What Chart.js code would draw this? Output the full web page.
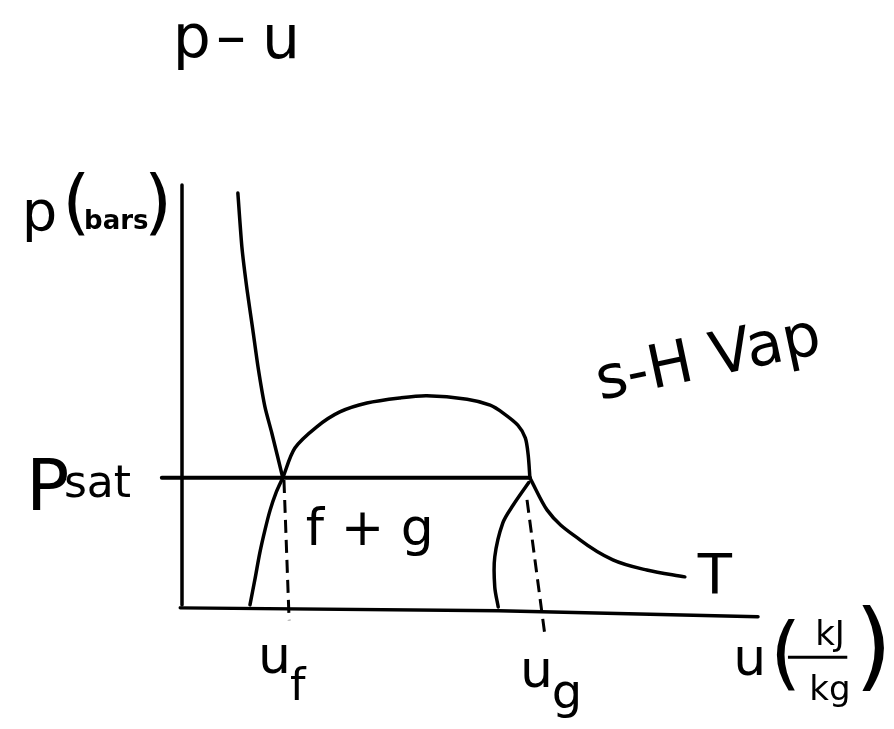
<!DOCTYPE html>
<html>
<head>
<meta charset="utf-8">
<title>p-u</title>
<script src="https://cdn.jsdelivr.net/npm/chart.js@4/dist/chart.umd.min.js"></script>
<style>
  html, body { margin: 0; padding: 0; background: #fff; }
  canvas { display: block; }
</style>
</head>
<body>
<canvas id="puChart" width="894" height="729"></canvas>
<script>
// values, u and p in sketch units (axes run 0..100)
const axisU = [0, 0];
const axisP = [100, 1.2];
const baseU = [-0.3, 55, 100];
const baseP = [0.5, -0.2, -1.6];

const liquidIsoU = [9.7, 10.4, 11.3, 12.3, 13.2, 14.4, 15.6, 17.5];
const liquidIsoP = [98.1, 85.4, 75.3, 65.9, 57.2, 47.8, 41.6, 31.1];

const domeU = [17.5, 19.6, 23.4, 27.4, 32.1, 37.9, 42.5, 49.5, 53.5, 55.7, 58.3, 59.6, 60.1, 60.4];
const domeP = [31.1, 38.1, 43.1, 46.6, 48.7, 49.9, 50.4, 49.6, 48.2, 46.4, 43.5, 40.5, 36.5, 31.1];

const psatU = [-3.5, 60.4];
const psatP = [31.1, 31.1];

const vaporIsoU = [60.4, 63.4, 69.1, 74.8, 80.7, 87.3];
const vaporIsoP = [31.1, 23.5, 16.5, 11.8, 9.4, 7.8];

const lowLiquidU = [17.5, 16.3, 15.3, 14.4, 13.5, 12.7, 11.8];
const lowLiquidP = [31.1, 27.5, 23.5, 18.8, 13.4, 7.5, 1.2];

const lowVaporU = [60.2, 57.5, 55.7, 54.3, 54.3, 54.9];
const lowVaporP = [30.0, 24.7, 20.5, 12.5, 5.4, 0.7];

const ufU = [17.7, 18.6];
const ufP = [30.6, -2.4];
const ugU = [59.9, 63.0];
const ugP = [25.9, -5.9];

// text on the sketch: [text, u, p]
const labelTexts = [
  ["p", -1.6, 130.1],
  ["–", 5.9, 130.1],
  ["u", 13.9, 129.9],
  ["p", -27.8, 89.4],
  ["(", -20.8, 90.4],
  ["bars", -17.0, 89.6],
  [")", -6.6, 90.4],
  ["P", -27.1, 23.5],
  ["sat", -20.5, 26.6],
  ["f + g", 21.5, 15.3],
  ["T", 92.5, 4.0],
  ["u", 13.2, -14.8],
  ["f", 18.75, -21.2],
  ["u", 58.7, -18.1],
  ["g", 64.2, -23.1],
  ["u", 95.7, -15.3],
  ["(", 102.1, -16.5],
  ["kJ", 112.5, -8.2],
  ["kg", 112.5, -21.2],
  [")", 116.8, -16.0],
  ["s-H Vap", 72.6, 49.4],
];

const fontFamily = "'DejaVu Sans', sans-serif";
// font size, alignment and rotation per label, same order as labelTexts
const labelStyles = [
  [60, "left", 0], [60, "left", 0], [60, "left", 0],
  [56, "left", 0], [72, "left", 0], [26, "left", 0, "bold"], [72, "left", 0],
  [72, "left", 0], [44, "left", 0],
  [52, "left", 0],
  [56, "center", 0],
  [52, "left", 0], [44, "left", 0],
  [52, "left", 0], [48, "left", 0],
  [52, "left", 0], [80, "left", 0], [34, "center", 0], [34, "center", 0], [96, "left", 0],
  [60, "left", -0.21],
];

function pts(us, ps) {
  return us.map((u, i) => ({ x: u, y: ps[i] }));
}

function line(data, extra) {
  return Object.assign(
    {
      data: data,
      showLine: true,
      borderColor: "#000",
      borderWidth: 3.5,
      pointRadius: 0,
      pointHoverRadius: 0,
      tension: 0.3,
      borderCapStyle: "round",
      borderJoinStyle: "round",
      clip: false,
    },
    extra || {}
  );
}

const sketchLabels = {
  id: "sketchLabels",
  afterDatasetsDraw(chart) {
    const ctx = chart.ctx;
    const xs = chart.scales.x;
    const ys = chart.scales.y;
    ctx.save();
    ctx.fillStyle = "#000";
    ctx.textBaseline = "alphabetic";
    labelTexts.forEach((l, i) => {
      const st = labelStyles[i];
      const px = xs.getPixelForValue(l[1]);
      const py = ys.getPixelForValue(l[2]);
      ctx.save();
      ctx.font = (st[3] || "normal") + " " + st[0] + "px " + fontFamily;
      ctx.textAlign = st[1];
      ctx.translate(px, py);
      ctx.rotate(st[2]);
      ctx.fillText(l[0], 0, 0);
      ctx.restore();
    });
    // fraction bar in kJ/kg
    ctx.strokeStyle = "#000";
    ctx.lineWidth = 3;
    ctx.beginPath();
    ctx.moveTo(xs.getPixelForValue(105.2), ys.getPixelForValue(-11.1));
    ctx.lineTo(xs.getPixelForValue(115.5), ys.getPixelForValue(-11.1));
    ctx.stroke();
    ctx.restore();
  },
};

const ctx = document.getElementById("puChart").getContext("2d");
new Chart(ctx, {
  type: "scatter",
  data: {
    datasets: [
      line(pts(axisU, axisP), { tension: 0 }),
      line(pts(baseU, baseP), { tension: 0 }),
      line(pts(psatU, psatP), { tension: 0, borderWidth: 4 }),
      line(pts(liquidIsoU, liquidIsoP), { tension: 0.2 }),
      line(pts(domeU, domeP)),
      line(pts(vaporIsoU, vaporIsoP), { cubicInterpolationMode: "monotone" }),
      line(pts(lowLiquidU, lowLiquidP)),
      line(pts(lowVaporU, lowVaporP)),
      line(pts(ufU, ufP), { tension: 0, borderWidth: 3, borderDash: [13, 7], borderCapStyle: "butt" }),
      line(pts(ugU, ugP), { tension: 0, borderWidth: 3, borderDash: [13, 7], borderCapStyle: "butt" }),
    ],
  },
  options: {
    responsive: false,
    animation: false,
    devicePixelRatio: 1,
    layout: {
      padding: { left: 182, right: 136, top: 185, bottom: 119 },
    },
    scales: {
      x: { type: "linear", min: 0, max: 100, display: false },
      y: { type: "linear", min: 0, max: 100, display: false },
    },
    plugins: {
      legend: { display: false },
      tooltip: { enabled: false },
    },
  },
  plugins: [sketchLabels],
});
</script>
</body>
</html>
